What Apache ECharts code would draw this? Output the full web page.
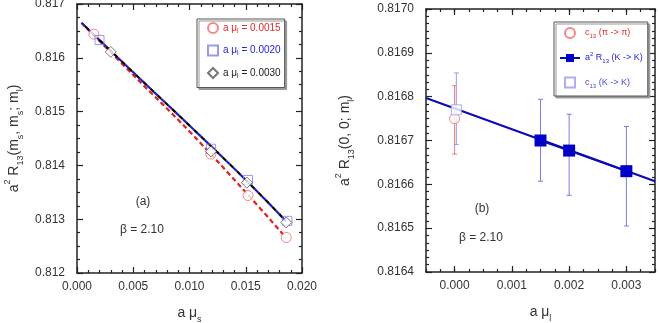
<!DOCTYPE html>
<html><head><meta charset="utf-8">
<script src="https://cdn.jsdelivr.net/npm/echarts@6/dist/echarts.min.js"></script>
<style>html,body{margin:0;padding:0;background:#fff}#c{width:658px;height:323px}</style>
</head><body><div id="c"></div>
<script>
// ---- Panel (a) data ----
const muS_0015 = [0.0015, 0.0119, 0.0152, 0.0186];
const R_0015   = [0.81644, 0.81421, 0.81344, 0.81266];
const muS_0020 = [0.0020, 0.0119, 0.0152, 0.0187];
const R_0020   = [0.81633, 0.81431, 0.81373, 0.81297];
const muS_0030 = [0.0030, 0.0119, 0.0151, 0.0186];
const R_0030   = [0.81611, 0.81426, 0.81368, 0.81294];
const fitRedX  = [0.0004, 0.005, 0.010, 0.015, 0.0186];
const fitRedY  = [0.81665, 0.81568, 0.81463, 0.81350, 0.81265];
const fitBlkX  = [0.0004, 0.005, 0.010, 0.015, 0.0186];
const fitBlkY  = [0.81665, 0.81573, 0.81474, 0.81373, 0.81296];
// ---- Panel (b) data ----
const muL_K    = [0.0015, 0.0020, 0.0030];
const R13_K    = [0.81670, 0.816677, 0.81663];
const R13_K_lo = [0.816607, 0.816575, 0.816505];
const R13_K_hi = [0.816794, 0.816760, 0.816732];
const c13pi    = {x: 0.0, y: 0.81675, lo: 0.816669, hi: 0.816825};
const c13K     = {x: 0.00003, y: 0.81677, lo: 0.816691, hi: 0.816854};
const fitBX    = [-0.0005, 0.0035];
const fitBY    = [0.816797, 0.816607];
// tick labels
const xTicksA = [0, 0.005, 0.010, 0.015, 0.020];
const xTicksB = [0, 0.001, 0.002, 0.003];

const zip = (xs, ys) => xs.map((x, i) => [x, ys[i]]);
const FONT = "'Liberation Sans', Arial, sans-serif";
const AX = '#222';
const SQ = 'path://M0,0L10,0L10,10L0,10Z';

function axisCommon(extra) {
  return Object.assign({
    type: 'value', splitLine: {show: false},
    axisLine: {show: true, onZero: false, lineStyle: {color: AX, width: 1.5}},
    axisTick: {show: true, inside: true, length: 6, lineStyle: {color: AX, width: 1.2}},
    minorTick: {show: true, length: 3, lineStyle: {color: AX, width: 1.2}},
    axisLabel: {color: '#333', fontSize: 12, fontFamily: FONT},
    nameTextStyle: {fontFamily: FONT}
  }, extra);
}
const main = {fontSize: 14, fontFamily: FONT, color: '#333', lineHeight: 22, verticalAlign: 'middle'};
const sub = {fontSize: 9, fontFamily: FONT, color: '#333', lineHeight: 9, verticalAlign: 'bottom'};
const sup = {fontSize: 9, fontFamily: FONT, color: '#333', lineHeight: 9, verticalAlign: 'top'};
const titleRich = {m: main, s: sub, p: sup};

function rs(color, big, small) {
  return {
    n: {color: color, fontSize: big, fontFamily: FONT, lineHeight: 13, verticalAlign: 'middle'},
    s: {color: color, fontSize: small, fontFamily: FONT, lineHeight: 7, verticalAlign: 'bottom'},
    p: {color: color, fontSize: small, fontFamily: FONT, lineHeight: 7, verticalAlign: 'top'}
  };
}
const legendRich = {};
[['r', '#e02828', 10], ['b', '#2424d8', 10], ['k', '#222', 10],
 ['R', '#e02828', 9], ['B', '#2424d8', 9], ['C', '#4a4ae0', 9]].forEach(([k, c, f]) => {
  const o = rs(c, f, f - 3);
  legendRich[k] = o.n; legendRich[k + 's'] = o.s; legendRich[k + 'p'] = o.p;
});
const legendFmt = {
  'l0015': '{r|a μ}{rs|l}{r| = 0.0015}',
  'l0020': '{b|a μ}{bs|l}{b| = 0.0020}',
  'l0030': '{k|a μ}{ks|l}{k| = 0.0030}',
  'cpi': '{R|c}{Rs|13}{R| (π -> π)}',
  'RKK': '{B|a}{Bp|2}{B| R}{Bs|13}{B| (K -> K)}',
  'cKK': '{C|c}{Cs|13}{C| (K -> K)}'
};

function errorSeries(name, pts, color, xi, yi, z) {
  return {
    type: 'custom', name: name, xAxisIndex: xi, yAxisIndex: yi, z: z,
    data: pts, silent: true,
    renderItem: function (params, api) {
      const x = api.value(0), lo = api.value(1), hi = api.value(2);
      const a = api.coord([x, lo]), b = api.coord([x, hi]);
      const w = 2.5, st = {stroke: color, lineWidth: 1};
      return {type: 'group', children: [
        {type: 'line', shape: {x1: a[0], y1: a[1], x2: b[0], y2: b[1]}, style: st},
        {type: 'line', shape: {x1: a[0] - w, y1: a[1], x2: a[0] + w, y2: a[1]}, style: st},
        {type: 'line', shape: {x1: b[0] - w, y1: b[1], x2: b[0] + w, y2: b[1]}, style: st}
      ]};
    }
  };
}

const fmt3 = v => v.toFixed(3);
const legendBox = {borderColor: '#555', borderWidth: 1, backgroundColor: '#fff',
  shadowColor: '#999', shadowOffsetX: 2, shadowOffsetY: 2, shadowBlur: 0};
const option = {
  animation: false,
  backgroundColor: '#fff',
  grid: [
    {left: 77, top: 4, width: 225, height: 269, containLabel: false, outerBoundsMode: 'none'},
    {left: 426, top: 9, width: 229, height: 263, containLabel: false, outerBoundsMode: 'none'}
  ],
  xAxis: [
    axisCommon({gridIndex: 0, position: 'bottom', min: 0, max: 0.02, interval: 0.005,
      minorTick: {show: true, splitNumber: 5, length: 3, lineStyle: {color: AX, width: 1.2}},
      axisLabel: {color: '#333', fontSize: 12, fontFamily: FONT, margin: 8, formatter: fmt3, customValues: xTicksA},
      name: '{m|a μ}{s|s}', nameLocation: 'middle', nameGap: 29,
      nameTextStyle: {rich: titleRich}}),
    axisCommon({gridIndex: 0, position: 'top', min: 0, max: 0.02, interval: 0.005,
      minorTick: {show: true, splitNumber: 5, length: 3, lineStyle: {color: AX, width: 1.2}},
      axisLabel: {show: false}}),
    axisCommon({gridIndex: 1, position: 'bottom', min: -0.0005, max: 0.0035, interval: 0.0005,
      axisTick: {show: true, inside: true, length: 6, customValues: xTicksB, lineStyle: {color: AX, width: 1.2}},
      minorTick: {show: false},
      axisLabel: {color: '#333', fontSize: 12, fontFamily: FONT, margin: 8, formatter: fmt3, customValues: xTicksB},
      name: '{m|a μ}{s|l}', nameLocation: 'middle', nameGap: 29,
      nameTextStyle: {rich: titleRich}}),
    axisCommon({gridIndex: 1, position: 'bottom', min: -0.0005, max: 0.0035, interval: 0.00025,
      axisLine: {show: false}, axisTick: {show: true, inside: true, length: 3, lineStyle: {color: AX, width: 1.2}},
      minorTick: {show: false}, axisLabel: {show: false}}),
    axisCommon({gridIndex: 1, position: 'top', min: -0.0005, max: 0.0035, interval: 0.0005,
      axisTick: {show: true, inside: true, length: 6, customValues: xTicksB, lineStyle: {color: AX, width: 1.2}},
      minorTick: {show: false}, axisLabel: {show: false}}),
    axisCommon({gridIndex: 1, position: 'top', min: -0.0005, max: 0.0035, interval: 0.00025,
      axisLine: {show: false}, axisTick: {show: true, inside: true, length: 3, lineStyle: {color: AX, width: 1.2}},
      minorTick: {show: false}, axisLabel: {show: false}})
  ],
  yAxis: [
    axisCommon({gridIndex: 0, position: 'left', min: 0.812, max: 0.817, interval: 0.001,
      minorTick: {show: true, splitNumber: 4, length: 3, lineStyle: {color: AX, width: 1.2}},
      axisLabel: {color: '#333', fontSize: 12, fontFamily: FONT, margin: 12, formatter: fmt3},
      name: '{m|a}{p|2}{m| R}{s|13}{m|(m}{s|s}{m|, m}{s|s}{m|; m}{s|l}{m|)}', nameLocation: 'middle', nameGap: 52, nameRotate: 90,
      nameTextStyle: {rich: titleRich}}),
    axisCommon({gridIndex: 0, position: 'right', min: 0.812, max: 0.817, interval: 0.001,
      minorTick: {show: true, splitNumber: 4, length: 3, lineStyle: {color: AX, width: 1.2}},
      axisLabel: {show: false}}),
    axisCommon({gridIndex: 1, position: 'left', min: 0.8164, max: 0.8170, interval: 0.0001,
      minorTick: {show: true, splitNumber: 6, length: 3, lineStyle: {color: AX, width: 1.2}},
      axisLabel: {color: '#333', fontSize: 12, fontFamily: FONT, margin: 12, formatter: v => v.toFixed(4)},
      name: '{m|a}{p|2}{m| R}{s|13}{m|(0, 0; m}{s|l}{m|)}', nameLocation: 'middle', nameGap: 70, nameRotate: 90,
      nameTextStyle: {rich: titleRich}}),
    axisCommon({gridIndex: 1, position: 'right', min: 0.8164, max: 0.8170, interval: 0.0001,
      minorTick: {show: true, splitNumber: 6, length: 3, lineStyle: {color: AX, width: 1.2}},
      axisLabel: {show: false}})
  ],
  legend: [
    Object.assign({orient: 'vertical', left: 197, top: 19, itemWidth: 10, itemHeight: 10, itemGap: 10,
      padding: [3, 4, 8, 10],
      data: [{name: 'l0015', icon: 'circle'}, {name: 'l0020', icon: SQ}, {name: 'l0030', icon: 'diamond'}],
      formatter: n => legendFmt[n], textStyle: {rich: legendRich}}, legendBox),
    Object.assign({orient: 'vertical', left: 554, top: 22, itemWidth: 20, itemHeight: 10, itemGap: 12,
      padding: [5, 5, 7, 5],
      data: [{name: 'cpi', icon: 'circle'}, {name: 'RKK'}, {name: 'cKK', icon: SQ}],
      formatter: n => legendFmt[n], textStyle: {rich: legendRich}}, legendBox)
  ],
  series: [
    // panel (a) fits
    {type: 'line', name: 'fitRed', xAxisIndex: 0, yAxisIndex: 0, data: zip(fitRedX, fitRedY), smooth: 0.4,
      symbol: 'none', silent: true, z: 2, lineStyle: {color: '#e02020', width: 2.2, type: [5, 3]}},
    {type: 'line', name: 'fitBlue', xAxisIndex: 0, yAxisIndex: 0, data: zip(fitBlkX, fitBlkY), smooth: 0.4,
      symbol: 'none', silent: true, z: 2, lineStyle: {color: '#1a1ad8', width: 2.2, type: [5, 5]}},
    {type: 'line', name: 'fitBlack', xAxisIndex: 0, yAxisIndex: 0, data: zip(fitBlkX, fitBlkY), smooth: 0.4,
      symbol: 'none', silent: true, z: 3, lineStyle: {color: '#000', width: 2.2, type: [5, 5], dashOffset: 5}},
    // panel (a) points
    {type: 'scatter', name: 'l0015', xAxisIndex: 0, yAxisIndex: 0, data: zip(muS_0015, R_0015),
      symbol: 'circle', symbolSize: 10, z: 5, itemStyle: {color: '#fff', borderColor: '#f06a6a', borderWidth: 1}},
    {type: 'scatter', name: 'l0020', xAxisIndex: 0, yAxisIndex: 0, data: zip(muS_0020, R_0020),
      symbol: 'rect', symbolSize: 9, z: 5, itemStyle: {color: 'rgba(255,255,255,0)', borderColor: '#8080ec', borderWidth: 1}},
    {type: 'scatter', name: 'l0030', xAxisIndex: 0, yAxisIndex: 0, data: zip(muS_0030, R_0030),
      symbol: 'diamond', symbolSize: 11, z: 6, itemStyle: {color: '#fff', borderColor: '#555', borderWidth: 1}},
    // panel (b)
    errorSeries('errPi', [[c13pi.x, c13pi.lo, c13pi.hi]], '#f07878', 2, 2, 3),
    errorSeries('errK0', [[c13K.x, c13K.lo, c13K.hi]], '#9a9aee', 2, 2, 3),
    errorSeries('errK', muL_K.map((x, i) => [x, R13_K_lo[i], R13_K_hi[i]]), '#7c7ce6', 2, 2, 3),
    {type: 'line', name: 'fitB', xAxisIndex: 2, yAxisIndex: 2, data: zip(fitBX, fitBY),
      symbol: 'none', silent: true, z: 4, lineStyle: {color: '#0a0ab4', width: 2}},
    {type: 'scatter', name: 'cpi', xAxisIndex: 2, yAxisIndex: 2, data: [[c13pi.x, c13pi.y]],
      symbol: 'circle', symbolSize: 10, z: 5, itemStyle: {color: '#fff', borderColor: '#f06a6a', borderWidth: 1}},
    {type: 'scatter', name: 'cKK', xAxisIndex: 2, yAxisIndex: 2, data: [[c13K.x, c13K.y]],
      symbol: 'rect', symbolSize: 10, z: 6, itemStyle: {color: '#fff', borderColor: '#9a9aee', borderWidth: 1}},
    {type: 'line', name: 'RKK', xAxisIndex: 2, yAxisIndex: 2, data: zip(muL_K, R13_K),
      symbol: 'rect', symbolSize: 12, z: 7, itemStyle: {color: '#0000c8'}, lineStyle: {color: '#0a0ab4', width: 2}}
  ],
  graphic: [
    {type: 'text', x: 143, y: 202, style: {text: '(a)', fill: '#333', font: '12px ' + FONT, align: 'center', verticalAlign: 'middle'}},
    {type: 'text', x: 142, y: 230, style: {text: 'β = 2.10', fill: '#333', font: '12px ' + FONT, align: 'center', verticalAlign: 'middle'}},
    {type: 'text', x: 482, y: 209, style: {text: '(b)', fill: '#333', font: '12px ' + FONT, align: 'center', verticalAlign: 'middle'}},
    {type: 'text', x: 481, y: 238, style: {text: 'β = 2.10', fill: '#333', font: '12px ' + FONT, align: 'center', verticalAlign: 'middle'}}
  ]
};
const chart = echarts.init(document.getElementById('c'), null, {renderer: 'canvas'});
chart.setOption(option);
</script></body></html>
